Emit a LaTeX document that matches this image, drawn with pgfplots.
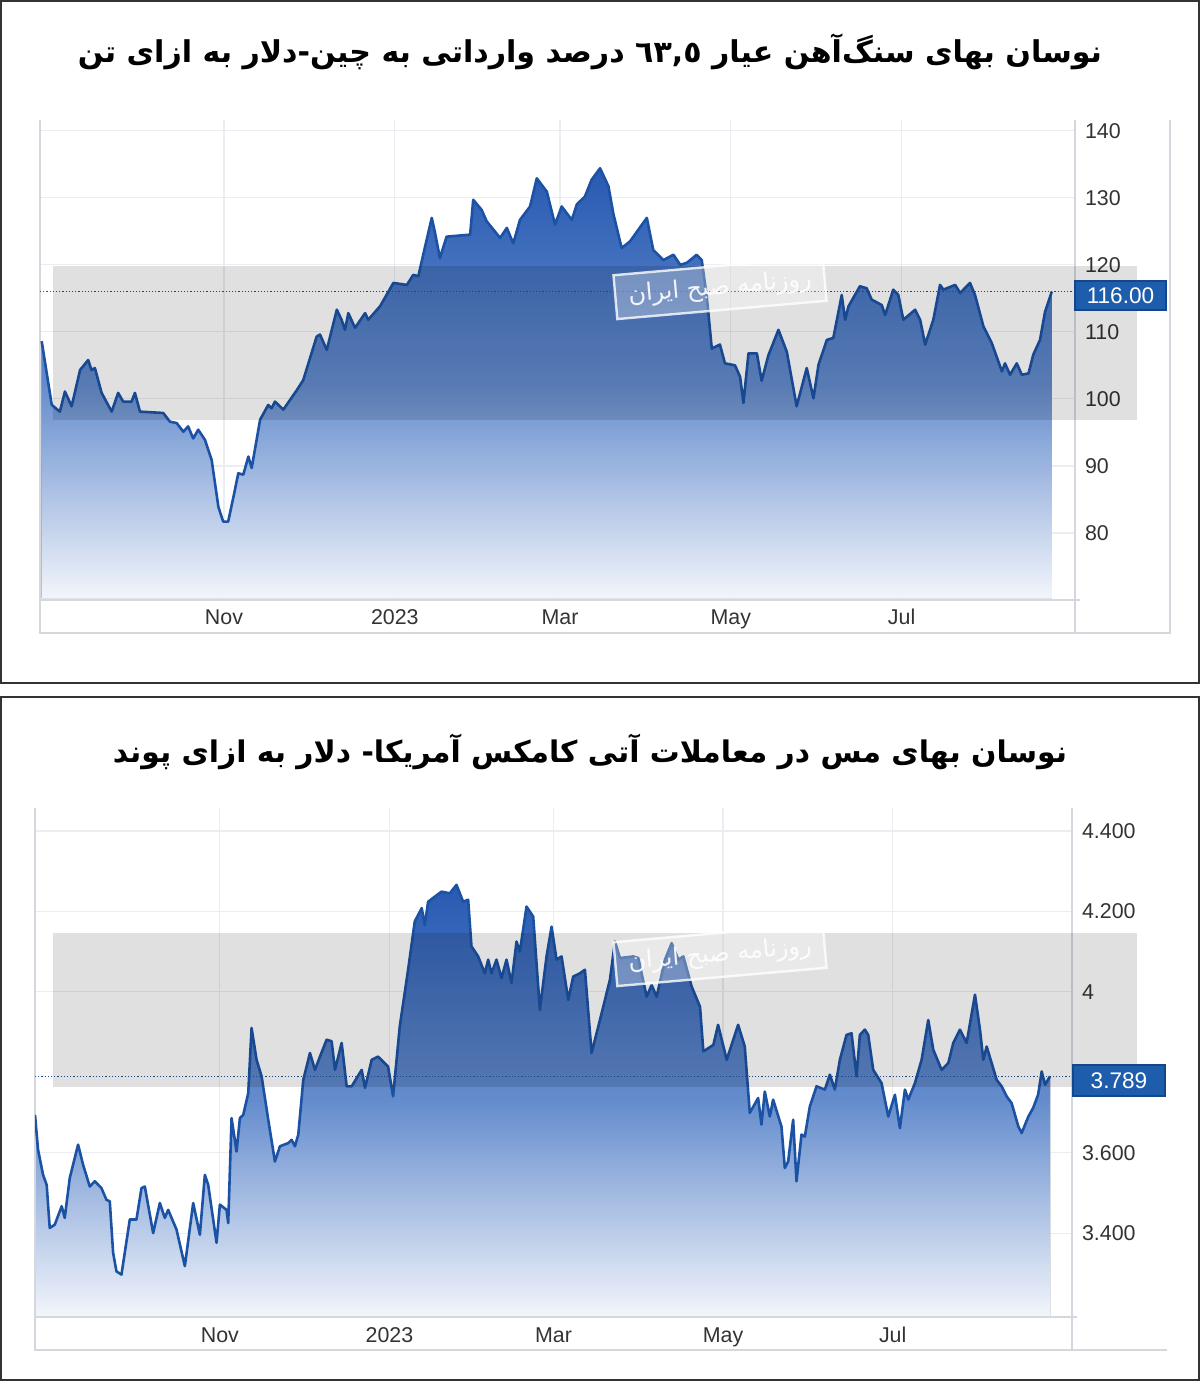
\documentclass[border=0pt]{standalone}
\usepackage{pgfplots}
\pgfplotsset{compat=1.18}
\usepackage{pgfplotstable}
\usepgfplotslibrary{fillbetween}
\usepackage{graphicx}
\usepackage{fontspec}
\setmainfont{Liberation Sans}
\newfontfamily\arabicfont[Script=Arabic]{DejaVu Sans}
\TeXXeTstate=1

\definecolor{linecol}{RGB}{28,82,164}
\definecolor{gridcol}{RGB}{234,237,241}
\definecolor{boxcol}{RGB}{212,216,222}
\definecolor{textcol}{RGB}{51,51,51}
\definecolor{fillTop}{RGB}{40,90,178}
\definecolor{fillMid}{RGB}{100,140,205}
\definecolor{fillBot}{RGB}{242,245,251}
\definecolor{valbox}{RGB}{30,92,172}
\definecolor{valedge}{RGB}{20,70,140}

% days counted from 1 Nov 2022
\pgfplotstableread{
d v
-65.1 108.6
-61.5 99.1
-58.6 98.1
-56.8 101.1
-54.4 98.9
-51.4 104.3
-48.5 105.8
-47.3 104.3
-46.1 104.6
-43.7 100.9
-40.1 98.1
-37.8 100.9
-36.0 99.6
-33.0 99.6
-31.8 100.9
-30.0 98.1
-21.7 97.9
-19.3 96.6
-16.9 96.4
-14.5 95.1
-12.8 95.9
-11.0 94.1
-9.2 95.4
-6.8 93.9
-4.4 90.9
-2.0 83.9
-0.3 81.7
1.5 81.7
3.9 86.4
5.1 88.9
6.9 88.7
8.7 91.4
9.9 89.7
12.9 96.9
15.8 99.1
17.0 98.6
18.2 99.6
21.2 98.4
26.0 101.3
28.3 102.8
33.1 109.3
34.3 109.6
36.7 107.3
40.3 113.3
42.0 111.8
43.2 110.3
44.4 112.8
46.8 110.6
50.4 112.8
51.5 111.8
55.7 113.8
60.5 117.3
65.3 117.0
67.6 118.5
69.4 118.3
71.8 122.7
74.2 127.0
75.4 124.7
77.1 121.0
79.5 124.2
87.9 124.5
89.0 129.7
92.0 128.2
93.8 126.5
98.6 124.0
101.0 125.5
103.3 123.2
105.7 126.7
109.3 128.7
111.7 132.9
115.3 130.9
118.2 126.0
120.6 128.7
124.2 126.7
126.0 129.0
128.9 130.2
131.3 132.7
134.3 134.4
137.3 131.7
139.0 127.7
142.0 122.5
145.0 123.5
151.0 127.0
153.3 122.2
156.9 120.7
160.5 121.5
162.9 120.0
165.3 120.3
168.8 121.5
170.6 120.7
172.4 115.3
174.2 107.5
177.1 108.1
178.9 105.3
182.5 105.0
184.3 103.3
185.5 99.4
187.3 106.8
190.3 106.8
192.0 102.7
194.4 106.5
198.0 110.3
201.0 107.0
204.5 98.9
208.1 104.6
210.5 100.1
212.3 105.1
215.3 108.8
217.6 109.1
220.6 115.5
221.8 111.8
223.0 113.8
227.1 116.8
229.5 116.5
231.3 114.8
234.9 114.0
236.1 112.5
239.0 116.3
240.8 115.5
242.6 111.8
246.8 113.3
248.6 111.8
250.4 108.1
253.3 111.8
255.7 117.0
256.9 116.3
261.1 117.0
262.9 115.8
266.4 117.3
268.2 115.5
271.2 110.8
274.2 108.3
277.8 104.1
278.9 105.3
280.7 103.6
283.1 105.3
284.9 103.6
287.3 103.8
289.0 106.6
291.4 108.8
293.2 113.0
295.6 116.0
}\ironore

\pgfplotstableread{
d v
-66.5 3.694
-65.4 3.607
-63.6 3.545
-62.3 3.520
-61.2 3.413
-59.4 3.421
-56.9 3.467
-55.8 3.438
-54.0 3.537
-51.0 3.620
-49.2 3.570
-46.8 3.516
-45.0 3.529
-42.6 3.512
-40.8 3.483
-39.6 3.479
-38.4 3.351
-37.2 3.305
-35.4 3.297
-32.4 3.434
-30.0 3.434
-28.2 3.512
-27.0 3.516
-24.0 3.400
-21.6 3.475
-19.8 3.438
-18.6 3.458
-15.6 3.409
-12.6 3.318
-9.6 3.475
-7.2 3.396
-5.4 3.545
-4.2 3.520
-1.2 3.376
0.0 3.471
2.4 3.458
3.0 3.425
4.2 3.686
6.0 3.603
7.2 3.686
8.4 3.694
10.2 3.748
11.4 3.910
13.2 3.831
15.0 3.790
17.4 3.682
19.8 3.578
21.6 3.616
24.6 3.624
25.8 3.632
27.0 3.616
28.2 3.645
30.0 3.781
32.4 3.848
34.2 3.806
36.0 3.839
38.4 3.881
40.2 3.877
41.4 3.806
43.8 3.873
45.6 3.765
47.4 3.765
51.0 3.806
52.2 3.761
54.6 3.831
56.9 3.839
60.5 3.814
62.3 3.740
64.7 3.914
67.7 4.055
70.1 4.175
72.6 4.208
73.7 4.166
74.9 4.224
79.7 4.249
82.7 4.245
85.1 4.266
87.5 4.224
89.3 4.229
90.5 4.113
92.9 4.088
95.3 4.046
96.5 4.080
97.7 4.046
99.5 4.080
101.3 4.034
103.1 4.080
104.9 4.022
106.7 4.125
107.9 4.100
110.3 4.212
112.7 4.187
115.1 3.955
117.5 4.088
119.3 4.162
121.1 4.080
122.9 4.088
125.3 3.980
127.1 4.038
129.5 4.046
131.3 4.055
133.7 3.848
136.7 3.930
140.3 4.030
142.1 4.125
143.9 4.084
148.7 4.088
150.5 4.084
153.5 3.988
155.3 4.017
157.1 3.988
160.1 4.080
162.5 4.121
164.9 4.080
166.7 4.088
169.7 4.013
172.7 3.963
173.9 3.852
177.5 3.868
179.2 3.918
182.3 3.831
186.4 3.918
188.8 3.864
190.6 3.699
193.6 3.736
194.8 3.670
196.0 3.752
197.8 3.690
199.0 3.732
202.0 3.665
203.2 3.562
204.4 3.578
206.2 3.682
207.4 3.529
209.2 3.645
210.4 3.640
212.2 3.715
214.6 3.765
217.6 3.757
219.4 3.794
221.2 3.757
223.0 3.831
225.4 3.893
227.2 3.897
229.0 3.790
230.2 3.893
232.0 3.906
233.2 3.893
235.0 3.806
238.0 3.773
240.4 3.690
242.8 3.744
244.6 3.661
246.4 3.757
247.6 3.732
250.0 3.773
252.4 3.831
254.8 3.930
256.6 3.856
259.6 3.806
262.0 3.823
263.8 3.873
266.2 3.906
268.6 3.873
271.6 3.993
273.4 3.906
274.6 3.831
275.8 3.864
277.6 3.823
279.4 3.781
281.2 3.765
283.0 3.740
284.8 3.723
287.2 3.665
288.4 3.649
290.8 3.690
292.5 3.711
294.3 3.744
295.6 3.802
296.8 3.769
298.6 3.790
}\copper

\pgfplotsset{
  pchart/.style={
    scale only axis,
    anchor=south west,
    axis line style={draw=none},
    major tick length=0pt,
    xmajorgrids, ymajorgrids,
    grid style={gridcol, line width=0.6pt},
    xtick={0,61,120,181,242},
    xticklabels={Nov,2023,Mar,May,Jul},
    yticklabel pos=right,
    tick label style={font=\fontsize{10.7}{12}\selectfont, text=textcol},
    yticklabel style={anchor=west, xshift=1.5pt},
    xticklabel style={yshift=-2pt, text height=7.8pt, text depth=2.2pt},
    /pgf/number format/assume math mode=true,
  },
  pfill/.style={draw=none, top color=fillTop, bottom color=fillBot, middle color=fillMid},
  pline/.style={linecol, line width=1.3pt, line join=round},
}
\tikzset{
  wmark/.style={rotate=5, draw=white, line width=1.2pt, fill=white, fill opacity=0.3,
    draw opacity=0.8, text opacity=0.9, text=white, minimum width=105pt, minimum height=22pt,
    font=\arabicfont\fontsize{12}{14}\selectfont},
}

\begin{document}
\begin{tikzpicture}
\begin{scope}[x=0.5pt, y=-0.5pt]
  \path[use as bounding box] (0,0) rectangle (1200,1381);
  % panel frames
  \draw[black!80, line width=0.8pt] (1,1) rectangle (1199,683);
  \draw[black!80, line width=0.8pt] (1,697) rectangle (1199,1380);
  % chart boxes
  \draw[boxcol, line width=0.7pt] (40,120) -- (40,633) -- (1170,633) -- (1170,120);
  \draw[boxcol, line width=0.7pt] (1075,120) -- (1075,633);
  \draw[boxcol, line width=1pt] (40,600) -- (1080,600);
  \draw[boxcol, line width=0.7pt] (35,808) -- (35,1350) -- (1167,1350);
  \draw[boxcol, line width=0.7pt] (1072,808) -- (1072,1350);
  \draw[boxcol, line width=1pt] (35,1317) -- (1077,1317);
  % titles
  \node at (590,52) {\resizebox{512pt}{!}{\arabicfont\bfseries\beginR نوسان بهای سنگ‌آهن عیار \beginL٦٣,٥\endL{} درصد وارداتی به چین-دلار به ازای تن\endR}};
  \node at (590,752) {\resizebox{477pt}{!}{\arabicfont\bfseries\beginR نوسان بهای مس در معاملات آتی کامکس آمریکا- دلار به ازای پوند\endR}};
\end{scope}

% iron ore
\begin{axis}[pchart, at={(20pt,-299pt)}, width=517.5pt, height=239pt,
  xmin=-65.7, xmax=303.9, ymin=70.3, ymax=141.6, ytick={80,90,...,140}]
  \addplot[draw=none, name path=oreA] table {\ironore};
  \addplot[draw=none, name path=oreB] coordinates {(-65.1,70.3) (295.6,70.3)};
  \addplot[pfill] fill between[of=oreA and oreB];
  \draw[densely dotted, linecol, line width=0.6pt] (axis cs:-65.7,116) -- (axis cs:303.9,116);
  \addplot[pline] table {\ironore};
\end{axis}

% copper
\begin{axis}[pchart, at={(17.5pt,-658pt)}, width=518.5pt, height=254pt,
  xmin=-66.5, xmax=306.5, ymin=3.194, ymax=4.457,
  ytick={3.4,3.6,4,4.2,4.4}, yticklabels={3.400,3.600,4,4.200,4.400}]
  \addplot[draw=none, name path=cuA] table {\copper};
  \addplot[draw=none, name path=cuB] coordinates {(-66.5,3.194) (298.6,3.194)};
  \addplot[pfill] fill between[of=cuA and cuB];
  \draw[densely dotted, linecol, line width=0.6pt] (axis cs:-66.5,3.789) -- (axis cs:306.5,3.789);
  \addplot[pline] table {\copper};
\end{axis}

\begin{scope}[x=0.5pt, y=-0.5pt]
  % grey watermark bands
  \fill[black, opacity=0.12] (53,266) rectangle (1137,420);
  \fill[black, opacity=0.12] (53,933) rectangle (1137,1087);
  % small watermark
  \node[wmark] at (720,288) {\beginR روزنامه صبح ایران\endR};
  \node[wmark] at (720,955) {\beginR روزنامه صبح ایران\endR};
  % last value labels
  \filldraw[fill=valbox, draw=valedge, line width=0.6pt] (1075,281) rectangle (1166,310);
  \node[text=white, font=\fontsize{11.3}{13}\selectfont] at (1120.5,295.5) {116.00};
  \filldraw[fill=valbox, draw=valedge, line width=0.6pt] (1073,1065) rectangle (1165,1096);
  \node[text=white, font=\fontsize{11.3}{13}\selectfont] at (1119,1080.5) {3.789};
\end{scope}
\end{tikzpicture}
\end{document}
